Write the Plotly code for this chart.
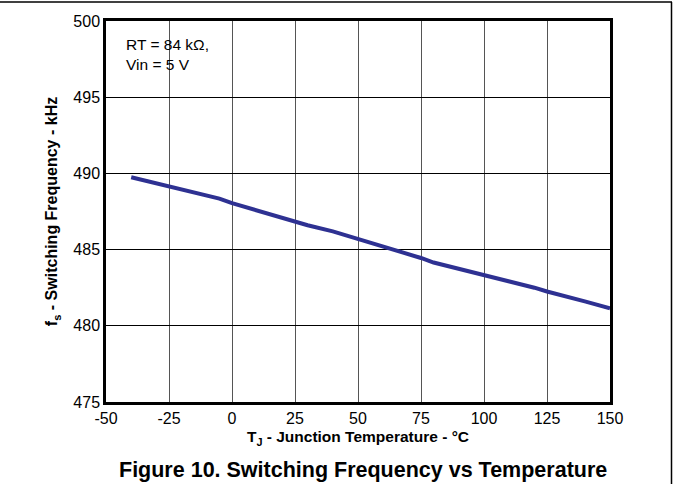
import plotly.graph_objects as go

temps = [-40, -30, -20, -10, -5, 0, 10, 20, 25, 30, 40, 50, 60, 70, 75, 80, 90, 100, 110, 120, 125, 130, 140, 150]
freq = [489.75, 489.35, 488.95, 488.5, 488.35, 488.05, 487.55, 487.05, 486.85, 486.6, 486.2, 485.7,
        485.25, 484.75, 484.45, 484.15, 483.75, 483.35, 482.95, 482.5, 482.25, 482.05, 481.6, 481.15]
x_ticks = [-50, -25, 0, 25, 50, 75, 100, 125, 150]
y_ticks = [475, 480, 485, 490, 495, 500]

W, H = 673, 484
L, R, T, B = 106, 63, 21, 82
pw, ph = W - L - R, H - T - B


def px(x):
    return (x - L) / pw


def py(y):
    return (H - B - y) / ph


fig = go.Figure()
fig.add_trace(go.Scatter(x=temps, y=freq, mode="lines",
                         line=dict(color="#2e3192", width=4), showlegend=False))

font = "Liberation Sans, Arial, sans-serif"
fig.update_layout(
    width=W, height=H,
    margin=dict(l=L, r=R, t=T, b=B),
    paper_bgcolor="white", plot_bgcolor="white",
    font=dict(family=font, size=16, color="black"),
    xaxis=dict(range=[-50, 150], tickvals=x_ticks, ticktext=[str(v) for v in x_ticks],
               showgrid=True, gridcolor="#555555", gridwidth=1,
               showline=True, linecolor="black", linewidth=2.5, mirror=True,
               ticks="", zeroline=False, tickfont=dict(size=16), automargin=False,
               title=dict(text="<b>T<sub>J</sub> - Junction Temperature - °C</b>",
                          font=dict(size=15.5), standoff=6)),
    yaxis=dict(range=[475, 500], tickvals=y_ticks, ticktext=[str(v) for v in y_ticks],
               showgrid=True, gridcolor="black", gridwidth=1,
               showline=True, linecolor="black", linewidth=2.5, mirror=True,
               ticks="", zeroline=False, tickfont=dict(size=16), automargin=False,
               title=dict(text="<b>f<sub>s</sub> - Switching Frequency - kHz</b>",
                          font=dict(size=16), standoff=12)),
)

fig.add_annotation(x=px(124), y=py(34), xref="paper", yref="paper",
                   text="RT = 84 kΩ,<br>Vin = 5 V", showarrow=False,
                   xanchor="left", yanchor="top", align="left",
                   font=dict(size=15.5, family=font))
fig.add_annotation(x=px(363), y=py(470), xref="paper", yref="paper",
                   text="<b>Figure 10. Switching Frequency vs Temperature</b>", showarrow=False,
                   xanchor="center", yanchor="middle",
                   font=dict(size=21.5, family=font))

# document frame (top and right edges)
fig.add_shape(type="line", xref="paper", yref="paper", layer="above",
              x0=px(0), x1=px(672), y0=py(2), y1=py(2), line=dict(color="black", width=1.5))
fig.add_shape(type="line", xref="paper", yref="paper", layer="above",
              x0=px(671.5), x1=px(671.5), y0=py(2), y1=py(484), line=dict(color="black", width=1.5))

fig.write_html("out.html", config={"displayModeBar": False},
               post_script="document.body.style.margin='0';document.body.style.overflow='hidden';")
